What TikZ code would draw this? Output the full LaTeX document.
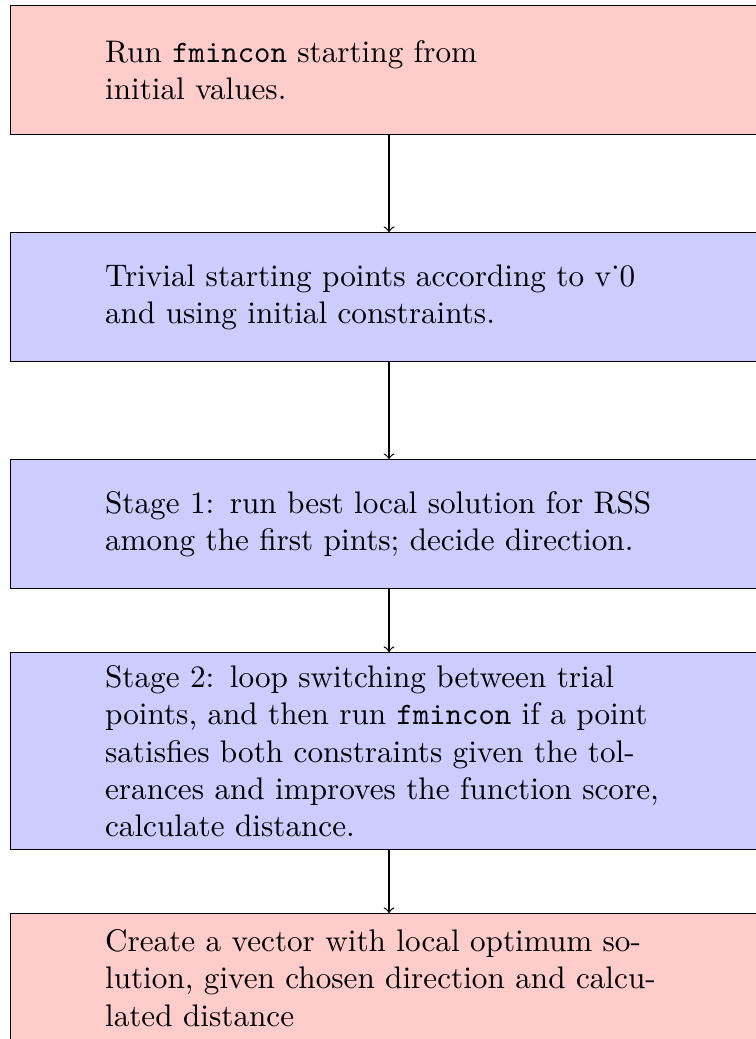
\documentclass[tikz,border=0pt]{standalone}
\begin{document}
\begin{tikzpicture}[
  stepbox/.style={draw=black, line width=0.4pt, minimum width=242.5pt,
    minimum height=41.3pt, text width=182pt, align=left,
    inner xsep=3.33pt, inner ysep=4pt},
  startbox/.style={stepbox, fill=red!20},
  procbox/.style={stepbox, fill=blue!20},
  flow/.style={->, draw=black, line width=0.4pt}
]
\useasboundingbox (0,0) rectangle (242pt,-333pt);

\node[startbox] (run)     at (124.68pt,-22.5pt)
  {Run \texttt{fmincon} starting from\\ initial values.};
\node[procbox]  (trivial) at (124.68pt,-95.26pt)
  {Trivial starting points according to v˙0 and using initial constraints.};
\node[procbox]  (stage1)  at (124.68pt,-168pt)
  {Stage 1: run best local solution for RSS among the first pints; decide direction.};
\node[procbox]  (stage2)  at (124.68pt,-240.77pt)
  {Stage 2: loop switching between trial points, and then run \texttt{fmincon} if a point satisfies both constraints given the tolerances and improves the function score, calculate distance.};
\node[startbox] (result)  at (124.68pt,-313.5pt)
  {Create a vector with local optimum solution, given chosen direction and calculated distance};

\draw[flow] (run) -- (trivial);
\draw[flow] (trivial) -- (stage1);
\draw[flow] (stage1) -- (stage2);
\draw[flow] (stage2) -- (result);
\end{tikzpicture}
\end{document}
